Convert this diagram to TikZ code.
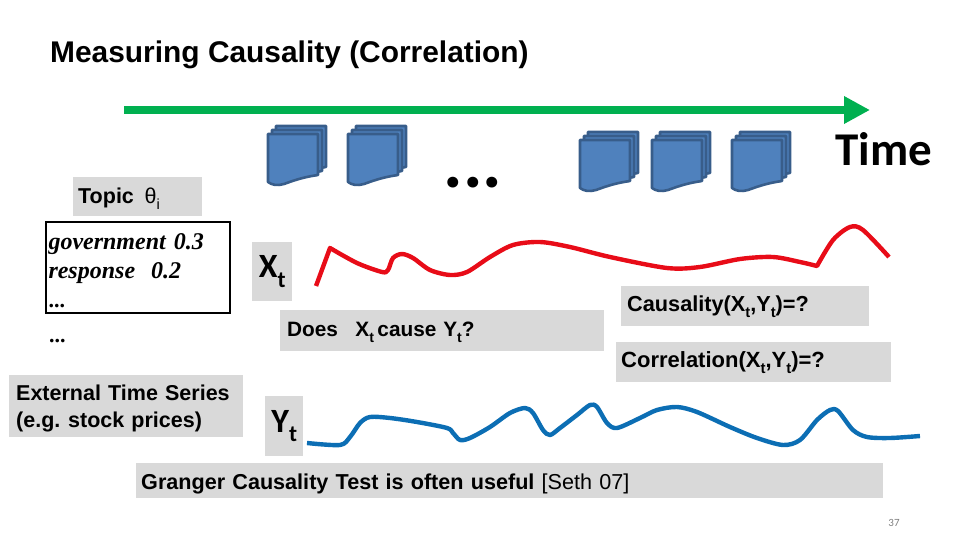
\documentclass[tikz,border=0pt]{standalone}
\usepackage{fontspec}
\setmainfont{Liberation Sans}
\newfontfamily\calibrifont{Carlito}
\newfontfamily\timesfont{Liberation Serif}
\usetikzlibrary{arrows.meta}
\newcommand{\lowidx}[1]{\raisebox{-0.28em}{\scalebox{0.68}{#1}}}
\tikzset{
    greybox/.style 2 args={fill=boxgray, anchor=north west, inner xsep=5pt, inner ysep=0pt,
        align=left, text width=#1-10pt, minimum height=#2},
    sidelabel/.style={fill=boxgray, anchor=north west, inner sep=0pt,
        font=\calibrifont\bfseries\fontsize{34}{36}\selectfont, align=center},
    seriesline/.style={line width=4.4pt, line join=round, smooth, tension=0.5},
    docpage/.style={draw=docedge, fill=docblue, line width=2.6pt, line join=round},
    pics/docstack/.style={code={
        \foreach \d in {8,4,0} {
            \draw[docpage, shift={(\d,-\d+10)}] (0,0) -- (50,0) -- (50,41)
                .. controls (36,43) and (27,46) .. (16,50)
                .. controls (9,52) and (4,51) .. (0,48) -- cycle;
        }
    }},
}
\begin{document}
\begin{tikzpicture}[x=1pt, y=-1pt, >=latex]
    % Màu sắc
    \definecolor{boxgray}{RGB}{217, 217, 217}
    \definecolor{docblue}{RGB}{79, 129, 189}
    \definecolor{docedge}{RGB}{56, 93, 138}
    \definecolor{timegreen}{RGB}{0, 176, 80}
    \definecolor{seriesred}{RGB}{232, 12, 24}
    \definecolor{seriesblue}{RGB}{12, 110, 180}
    \useasboundingbox (0,0) rectangle (960,540);

    % 1. Tiêu đề
    \node[anchor=base west, inner sep=0pt, font=\bfseries\fontsize{29.9}{32}\selectfont] (title) at (50,63)
        {Measuring Causality (Correlation)};

    % 2. Trục thời gian
    \coordinate (timestart) at (124,110);
    \coordinate (timeend) at (870,110);
    \draw[-{Triangle[length=26pt, width=26pt]}, timegreen, line width=8pt] (timestart) -- (timeend);
    \node[anchor=base west, inner sep=0pt, font=\calibrifont\bfseries\fontsize{47}{48}\selectfont] (timelabel) at (835,165) {Time};

    % 3. Các chồng tài liệu
    \foreach \px/\py in {268/124, 348/124, 580/130, 652/130, 732/130} {
        \pic at (\px,\py) {docstack};
    }
    \node[anchor=base, inner sep=0pt, font=\calibrifont\bfseries\fontsize{73}{73}\selectfont] (moredocs) at (473,187) {...};

    % 4. Chủ đề
    \node[greybox={129pt}{39pt}, text height=17pt, text depth=4pt, font=\bfseries\fontsize{21.5}{24}\selectfont] (topic) at (73,177)
        {Topic\, {\mdseries θ}\lowidx{\mdseries i}};
    \node[draw, line width=2pt, anchor=north west, minimum width=184pt, minimum height=91pt,
        inner xsep=3pt, inner ysep=0pt, align=left, text width=178pt, text height=19pt, text depth=55pt,
        font=\timesfont\bfseries\itshape\fontsize{24}{29}\selectfont] (words) at (44.5,220.5)
        {government 0.3\\response\ \ 0.2\\ \upshape\fontsize{22}{29}\selectfont ...};
    \node[anchor=base west, inner sep=0pt, font=\timesfont\bfseries\fontsize{22}{29}\selectfont] (wordsmore) at (49,342) {...};
    \node[greybox={234pt}{62pt}, inner xsep=7pt, text width=220pt, text height=16pt, text depth=28pt,
        font=\bfseries\fontsize{21.5}{27}\selectfont] (external) at (9,375)
        {External Time Series\\(e.g.\hspace{-3pt} stock prices)};

    % 5. Nhãn của hai chuỗi
    \node[sidelabel, minimum width=40pt, minimum height=59pt] (xt) at (252,242) {X\lowidx{t}};
    \node[sidelabel, minimum width=38pt, minimum height=60pt] (yt) at (265,396) {Y\lowidx{t}};

    % 6. Các câu hỏi
    \node[greybox={324pt}{41pt}, inner xsep=7pt, text width=310pt, text height=16pt, text depth=4pt,
        font=\bfseries\fontsize{20.8}{24}\selectfont] (does) at (280,310)
        {Does\, \ X\lowidx{t}\,cause Y\lowidx{t}?};
    \node[greybox={248pt}{40pt}, inner xsep=6pt, text width=236pt, text height=14pt, text depth=4pt,
        font=\bfseries\fontsize{21.7}{24}\selectfont] (causality) at (621,286)
        {Causality(X\lowidx{t},Y\lowidx{t})=?};
    \node[greybox={275pt}{40pt}, text width=265pt, text height=14pt, text depth=4pt,
        font=\bfseries\fontsize{22}{24}\selectfont] (correlation) at (616,342)
        {Correlation(X\lowidx{t},Y\lowidx{t})=?};
    \node[greybox={747pt}{35pt}, text width=737pt, text height=21pt, text depth=4pt,
        font=\bfseries\fontsize{21.6}{24}\selectfont] (granger) at (136,463)
        {Granger Causality Test is often useful {\mdseries [Seth 07]}};

    % 7. Đường cong X_t
    \draw[seriesred, seriesline] (316,286) -- (330,248)
        -- plot coordinates {(330,248) (357,263) (382,272) (388,270) (393,258) (402,254) (413,258) (430,270) (450,275) (467,272) (490,257) (513,245) (540,242) (570,247) (610,257) (667,268) (700,267) (740,259) (773,257) (800,262) (817,266)}
        -- plot coordinates {(817,266) (833,240) (850,227) (863,230) (889,257)};

    % 8. Đường cong Y_t
    \draw[seriesblue, seriesline]
        plot coordinates {(307,443) (340,445) (350,437) (360,423) (370,417) (390,418) (417,422) (447,428) (453,433) (460,440) (470,438) (490,427) (510,413) (525,408) (533,413) (543,430) (550,435) (560,428) (577,415) (590,405) (597,407) (607,423) (617,428) (640,418) (657,410) (677,407) (697,412) (730,427) (757,438) (783,445) (800,440) (817,420) (830,410) (838,411) (853,430) (867,437) (890,438) (920,436)};

    % 9. Số trang
    \node[anchor=base, inner sep=0pt, text=gray, font=\calibrifont\fontsize{11}{12}\selectfont] (pagenum) at (894,526) {37};
\end{tikzpicture}
\end{document}
